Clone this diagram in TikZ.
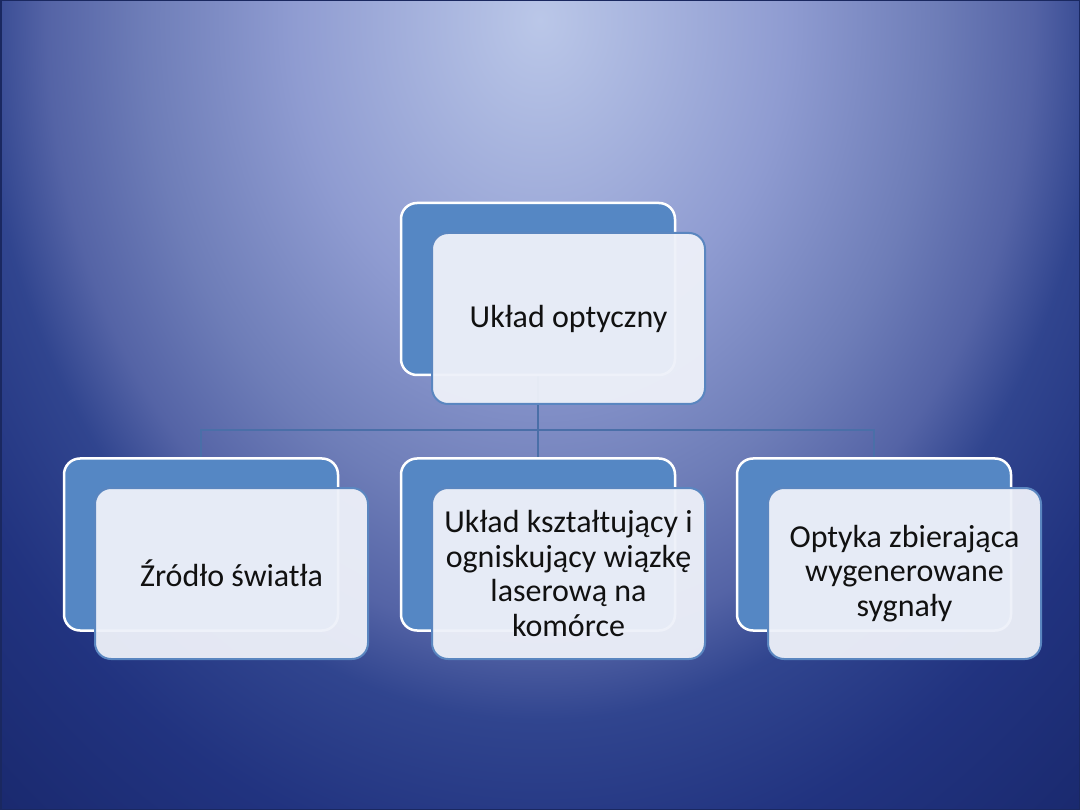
\documentclass[tikz,border=0pt]{standalone}
\usepackage{fontspec}
\setmainfont{Carlito}
\usetikzlibrary{calc}
\pgfdeclareradialshading{bgshade}{\pgfpoint{0bp}{0bp}}{%
rgb(0bp)=(0.73,0.78,0.91);
rgb(13.7bp)=(0.56,0.61,0.82);
rgb(22bp)=(0.43,0.49,0.72);
rgb(27.3bp)=(0.33,0.39,0.65);
rgb(31bp)=(0.19,0.27,0.56);
rgb(37.7bp)=(0.13,0.20,0.50);
rgb(46.7bp)=(0.10,0.16,0.43);
rgb(50bp)=(0.10,0.16,0.43)}
\definecolor{backblue}{HTML}{5587C4}
\definecolor{frontfill}{HTML}{EEF1F9}
\definecolor{frontline}{HTML}{5A86C0}
\definecolor{connc}{HTML}{4A6FA8}
\definecolor{edgec}{HTML}{1A2860}
\definecolor{txt}{HTML}{111111}
\tikzset{
  slot/.style={minimum width=274pt, minimum height=172pt, inner sep=0pt},
  backbox/.style={draw=white, line width=2.5pt, fill=backblue, rounded corners=16pt,
    minimum width=274pt, minimum height=172pt, inner sep=0pt},
  frontbox/.style={draw=frontline, line width=2pt, fill=frontfill, fill opacity=0.95,
    text opacity=1, rounded corners=16pt, minimum width=273pt, minimum height=171pt,
    inner sep=0pt, align=center, text=txt, font=\fontsize{32}{34.5}\selectfont},
  conn/.style={draw=connc, line width=2pt}
}
\begin{document}
\begin{tikzpicture}[x=1pt,y=-1pt]
\useasboundingbox (0,0) rectangle (1080,810);
\begin{scope}
\clip (0,0) rectangle (1080,810);
\pgftransformshift{\pgfpoint{540pt}{-20pt}}
\pgftransformxscale{18}
\pgftransformyscale{22.5}
\pgflowlevelsynccm
\pgfuseshading{bgshade}
\end{scope}
\draw[edgec, line width=1.5pt] (0.75,0.75) rectangle (1079.25,809.25);

% back box slots
\path (538,289) node[slot] (tb) {};
\path (201,544.5) node[slot] (lb) {};
\path (538,544.5) node[slot] (mb) {};
\path (874,544.5) node[slot] (rb) {};
\coordinate (bus) at (538,430);

% connectors
\draw[conn] (tb.south) -- (tb.south |- bus);
\draw[conn] (lb.north) -- (lb.north |- bus) -- (rb.north |- bus) -- (rb.north);
\draw[conn] (mb.north) -- (mb.north |- bus);

% top
\node[backbox] at (tb) {};
\node[frontbox] (t) at (568.5,318.5) {Układ optyczny};
% bottom row
\node[backbox] at (lb) {};
\node[frontbox] (l) at (231.5,573.5) {Źródło światła};
\node[backbox] at (mb) {};
\node[frontbox] (m) at (568.5,573.5) {Układ kształtujący i\\ogniskujący wiązkę\\laserową na\\komórce};
\node[backbox] at (rb) {};
\node[frontbox] (r) at (904.5,573.5) {Optyka zbierająca\\wygenerowane\\sygnały};
\end{tikzpicture}
\end{document}
